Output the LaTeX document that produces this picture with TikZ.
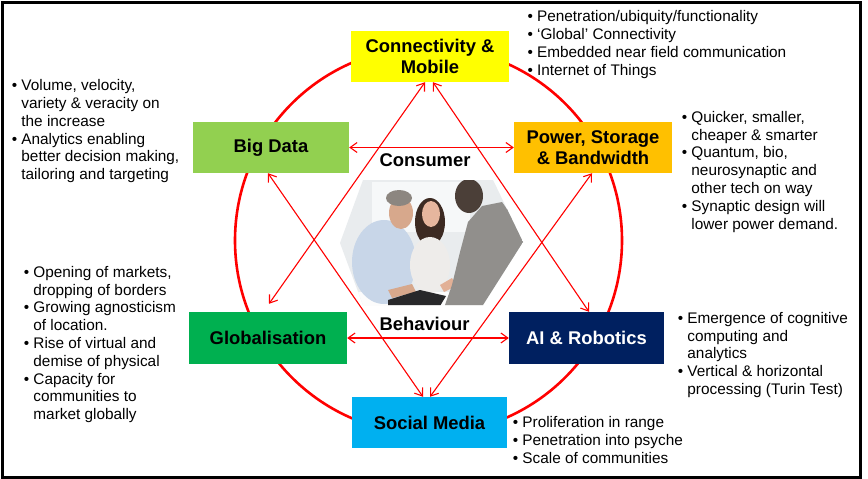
\documentclass[tikz,border=0pt]{standalone}
\usepackage{fontspec}
\setmainfont{Liberation Sans}
\usetikzlibrary{arrows.meta}
\definecolor{cyel}{HTML}{FFFF00}
\definecolor{cbig}{HTML}{92D050}
\definecolor{cpow}{HTML}{FFC000}
\definecolor{cglob}{HTML}{00B050}
\definecolor{cai}{HTML}{002060}
\definecolor{csoc}{HTML}{00B0F0}
\definecolor{cred}{HTML}{FF0000}
\newcommand\mybul{•\ }
\newcommand\myind{\phantom{•\ }}
\newcommand\myblist[1]{{\fontsize{15.35}{17.8}\selectfont\begin{tabular}[t]{@{}l@{}}#1\end{tabular}}}
\begin{document}
\begin{tikzpicture}[x=1pt,y=-1pt,
  box/.style={draw=none, inner sep=0pt, align=center, font=\fontsize{18.4}{21.5}\selectfont\bfseries},
  arr/.style={draw=cred, line width=1.1pt, {Straight Barb[length=7pt,width=10pt]}-{Straight Barb[length=7pt,width=10pt]}},
  blist/.style={inner sep=0pt, anchor=base west, text=black},
  lab/.style={inner sep=0pt, anchor=base, font=\fontsize{18.4}{21.5}\selectfont\bfseries}]
\useasboundingbox (0,0) rectangle (868,479);
\fill[white] (0,0) rectangle (868,479);
\draw[line width=3pt] (2,2) rectangle (860,477);
% ring
\draw[cred, line width=2.6pt] (428.5,240.5) circle[radius=193.5];
% photo impression
\begin{scope}
\clip (363,180) -- (493,180) -- (523,242) -- (483,305) -- (363,305) -- (340,243) -- cycle;
\fill[fill={rgb,255:red,233;green,236;blue,238}] (330,175) rectangle (530,310);
\fill[fill={rgb,255:red,246;green,248;blue,249}] (372,182) rectangle (470,232);
\fill[fill={rgb,255:red,252;green,252;blue,252}] (340,292) rectangle (530,310);
% left man
\fill[fill={rgb,255:red,200;green,214;blue,232}] (384,262) ellipse[x radius=32, y radius=42];
\fill[fill={rgb,255:red,215;green,168;blue,140}] (401,213) ellipse[x radius=12, y radius=16];
\fill[fill={rgb,255:red,140;green,134;blue,128}] (399,198) ellipse[x radius=13, y radius=8];
\fill[fill={rgb,255:red,215;green,168;blue,140}] (388,290) -- (412,284) -- (416,292) -- (392,298) -- cycle;
% woman
\fill[fill={rgb,255:red,60;green,42;blue,34}] (430,222) ellipse[x radius=15, y radius=24];
\fill[fill={rgb,255:red,230;green,182;blue,158}] (431,214) ellipse[x radius=9, y radius=13];
\fill[fill={rgb,255:red,238;green,236;blue,234}] (430,265) ellipse[x radius=20, y radius=28];
\fill[fill={rgb,255:red,226;green,176;blue,150}] (440,285) -- (452,278) -- (456,286) -- (444,292) -- cycle;
% right man
\fill[fill={rgb,255:red,145;green,143;blue,140}] (445,305) -- (452,285) -- (460,252) -- (468,222) -- (482,206) -- (502,202) -- (516,222) -- (523,242) -- (500,305) -- cycle;
\fill[fill={rgb,255:red,75;green,63;blue,56}] (469,196) ellipse[x radius=14, y radius=17];
% tablet
\fill[fill={rgb,255:red,40;green,40;blue,42}] (388,300) -- (420,290) -- (446,296) -- (440,306) -- (388,306) -- cycle;
\end{scope}
% boxes
\node[box, fill=cyel, minimum width=158pt, minimum height=51pt] (conn) at (430,56.5) {Connectivity \&\\Mobile};
\node[box, fill=cbig, minimum width=156pt, minimum height=51pt] (big) at (271,147.5) {Big Data};
\node[box, fill=cpow, minimum width=158pt, minimum height=51pt] (pow) at (593,147.5) {Power, Storage\\\& Bandwidth};
\node[box, fill=cglob, minimum width=158pt, minimum height=52pt] (glob) at (268,338) {Globalisation};
\node[box, fill=cai, text=white, minimum width=155pt, minimum height=52pt] (ai) at (586.5,338) {AI \& Robotics};
\node[box, fill=csoc, minimum width=155pt, minimum height=51pt] (soc) at (429.5,422.5) {Social Media};
% connectors
\draw[arr] ([xshift=-5pt]conn.south) -- ([xshift=1pt,yshift=8pt]glob.north);
\draw[arr] ([xshift=3pt]conn.south) -- ([xshift=2.5pt]ai.north);
\draw[arr] ([xshift=-3pt]big.south) -- ([xshift=-6.5pt]soc.north);
\draw[arr] ([xshift=-1pt]pow.south) -- ([xshift=0.5pt]soc.north);
\draw[arr] (big.east) -- (pow.west);
\draw[arr] (glob.east) -- (ai.west);
% labels
\node[lab] (consumer) at (425,166.7) {Consumer};
\node[lab] (behaviour) at (424.5,330) {Behaviour};
% bullet lists
\node[blist] (lconn) at (527.3,21.7) {\myblist{\mybul Penetration/ubiquity/functionality\\ \mybul ‘Global’ Connectivity\\ \mybul Embedded near field communication\\ \mybul Internet of Things}};
\node[blist] (lbig) at (11.6,90.7) {\myblist{\mybul Volume, velocity,\\ \myind variety \& veracity on\\ \myind the increase\\ \mybul Analytics enabling\\ \myind better decision making,\\ \myind tailoring and targeting}};
\node[blist] (lpow) at (681.6,122.3) {\myblist{\mybul Quicker, smaller,\\ \myind cheaper \& smarter\\ \mybul Quantum, bio,\\ \myind neurosynaptic and\\ \myind other tech on way\\ \mybul Synaptic design will\\ \myind lower power demand.}};
\node[blist] (lglob) at (23.6,277.3) {\myblist{\mybul Opening of markets,\\ \myind dropping of borders\\ \mybul Growing agnosticism\\ \myind of location.\\ \mybul Rise of virtual and\\ \myind demise of physical\\ \mybul Capacity for\\ \myind communities to\\ \myind market globally}};
\node[blist] (lai) at (677.6,323.3) {\myblist{\mybul Emergence of cognitive\\ \myind computing and\\ \myind analytics\\ \mybul Vertical \& horizontal\\ \myind processing (Turin Test)}};
\node[blist] (lsoc) at (512.6,427.7) {\myblist{\mybul Proliferation in range\\ \mybul Penetration into psyche\\ \mybul Scale of communities}};
\end{tikzpicture}
\end{document}
